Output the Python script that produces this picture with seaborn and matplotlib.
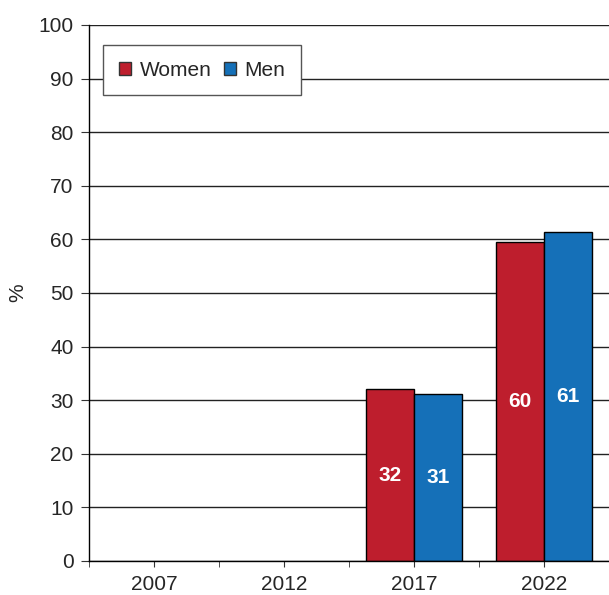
import pandas as pd
import seaborn as sns
import matplotlib.pyplot as plt
import numpy as np
from matplotlib.ticker import FixedLocator

years = ["2007", "2012", "2017", "2022"]
women = [None, None, 32.0, 59.6]
men = [None, None, 31.1, 61.3]
labels_w = ["", "", "32", "60"]
labels_m = ["", "", "31", "61"]

rows = []
for y, w, m in zip(years, women, men):
    if w is not None:
        rows.append({"year": y, "sex": "Women", "val": w})
        rows.append({"year": y, "sex": "Men", "val": m})
df = pd.DataFrame(rows)

sns.set_style("white")
plt.rcParams['font.family'] = ['Liberation Sans', 'DejaVu Sans']

fig = plt.figure(figsize=(6.09, 5.95), dpi=100)
ax = fig.add_axes([89/609, 34/595, 520/609, 536/595])

ax.set_axisbelow(True)
ax.yaxis.grid(True, color="#222222", linewidth=1)
sns.barplot(data=df, x="year", y="val", hue="sex", order=years,
            hue_order=["Women", "Men"], palette=["#BE1E2D", "#1570B8"],
            width=0.74, edgecolor="black", linewidth=1, saturation=1, ax=ax)

for cont, labs in zip(ax.containers, [labels_w, labels_m]):
    labs = [l for l in labs if l]
    ax.bar_label(cont, labels=labs, label_type="center", color="white",
                 fontsize=15, fontweight="bold")

ax.set_ylim(0, 100)
ax.set_xlim(-0.5, 3.5)
ax.set_yticks(np.arange(0, 101, 10))
ax.set_ylabel("%", fontsize=15)
ax.yaxis.label.set_va("center")
ax.yaxis.set_label_coords(-71/520, 0.5)
ax.set_xlabel("")
ax.tick_params(axis="y", labelsize=15, length=6, pad=5, direction="out", left=True, color="#333333")
ax.tick_params(axis="x", labelsize=15, length=4, pad=6, bottom=True, color="#333333")
ax.xaxis.set_minor_locator(FixedLocator([-0.5, 0.5, 1.5, 2.5]))
ax.tick_params(axis="x", which="minor", length=4, bottom=True, color="#333333")
for s in ["top", "right"]:
    ax.spines[s].set_visible(False)
for s in ["left", "bottom"]:
    ax.spines[s].set_color("black")
    ax.spines[s].set_linewidth(1)

leg = ax.legend(loc="upper left", bbox_to_anchor=(14/520, 1 - 20/536), ncol=2,
                fontsize=15, frameon=True, fancybox=False, handlelength=0.6,
                handleheight=0.6, columnspacing=0.6, handletextpad=0.4,
                borderpad=0.75, borderaxespad=0, edgecolor="#555555", framealpha=1)
leg.get_frame().set_linewidth(1)
for h in leg.legend_handles:
    h.set_edgecolor("#333333")

fig.savefig("out.png", dpi=100)
